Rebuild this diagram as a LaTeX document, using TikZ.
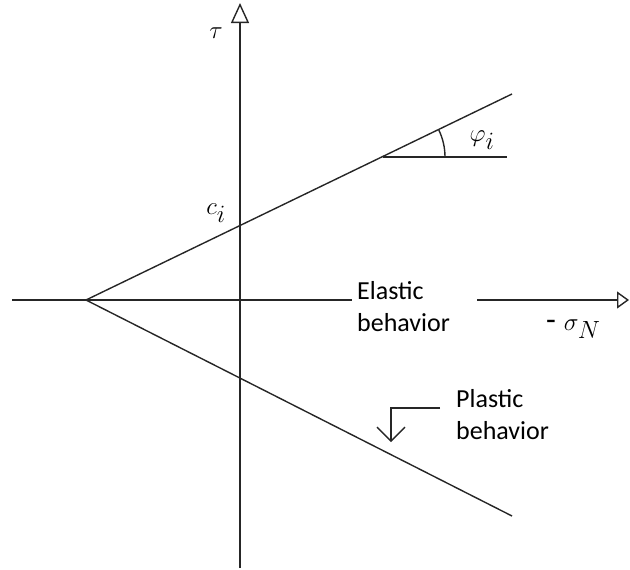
\documentclass[tikz,border=0pt]{standalone}
\usepackage{fontspec}
\setmainfont{Carlito}
\DeclareMathSizes{32}{32}{24}{19}
\usetikzlibrary{arrows.meta}
\begin{document}
\begin{tikzpicture}[x=1pt,y=-1pt,
  line/.style={line width=1.4pt,draw=black!85},
  lbl/.style={font=\fontsize{26}{32}\selectfont,align=left,inner sep=0pt},
  mlbl/.style={font=\fontsize{32}{36}\selectfont,inner sep=0pt}]
\useasboundingbox (0,0) rectangle (630,570);
% coordinates
\coordinate (vb) at (240,568);
\coordinate (vt) at (240,3);
\coordinate (hl) at (12,300);
\coordinate (hle) at (352,300);
\coordinate (hrs) at (477,300);
\coordinate (hr) at (629,300);
\coordinate (V) at (86,300);
\coordinate (U) at (512,94);
\coordinate (L) at (512,516);
\coordinate (A) at (383,157);
\coordinate (Ae) at (507,157);
\coordinate (p1) at (440,408);
\coordinate (p2) at (391,408);
\coordinate (p3) at (391,442);
% axes
\draw[line,-{Triangle[open,length=20pt,width=18pt]}] (vb) -- (vt);
\draw[line] (hl) -- (hle);
\draw[line,-{Triangle[open,length=12pt,width=17pt]}] (hrs) -- (hr);
% envelope lines
\draw[line] (V) -- (U);
\draw[line] (V) -- (L);
% angle
\draw[line] (A) -- (Ae);
\draw[line] ([shift={(0:62)}]A) arc[start angle=0,end angle=-25.8,radius=62];
% plastic arrow
\draw[line,-{Straight Barb[length=14pt,width=28pt,line width=1.4pt]}] (p1) -- (p2) -- (p3);
% labels
\node[mlbl] (tau) at (216,33) {$\tau$};
\node[mlbl] (phi) at (482,140) {$\varphi_i$};
\node[mlbl] (ci) at (216,213) {$c_i$};
\node[mlbl,anchor=west] (sig) at (546,329) {-\hspace{8pt}$\sigma_N$};
\node[lbl,anchor=north west] (el) at (357,281) {Elastic\\behavior};
\node[lbl,anchor=north west] (pl) at (456,389) {Plastic\\behavior};
\end{tikzpicture}
\end{document}
